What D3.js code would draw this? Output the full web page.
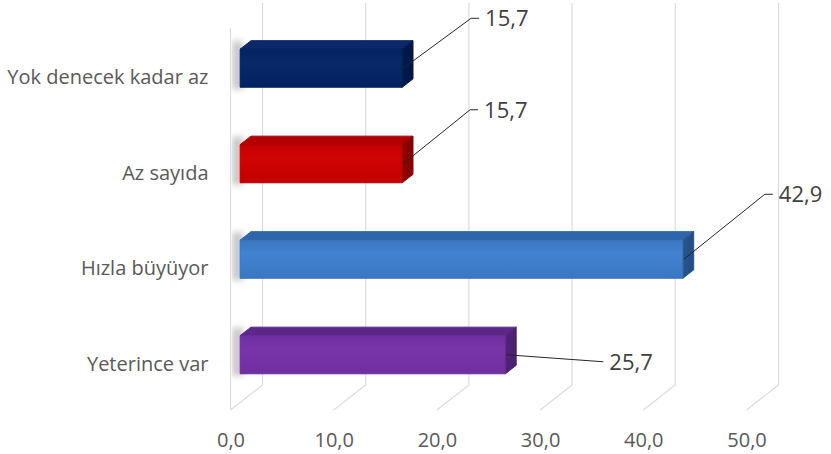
<!DOCTYPE html>
<html><head><meta charset="utf-8">
<script src="https://cdn.jsdelivr.net/npm/d3@7/dist/d3.min.js"></script>
<style>
html,body{margin:0;padding:0;background:#fff;}
svg{display:block;font-family:"Open Sans",sans-serif;}
</style></head>
<body><svg id="c" width="831" height="454"></svg>
<script>
const categories = ["Yok denecek kadar az","Az sayıda","Hızla büyüyor","Yeterince var"];
const values = [15.7, 15.7, 42.9, 25.7];
const tickValues = [0,10,20,30,40,50];
const barColors = [
  {front:"#032261", light:"#082868", top:"#0b286a", end:"#011a4c"},
  {front:"#c20000", light:"#d00404", top:"#b20000", end:"#930000"},
  {front:"#3a77c3", light:"#4282cf", top:"#2f65a9", end:"#26558f"},
  {front:"#7030a0", light:"#7834a9", top:"#5c2788", end:"#53227a"}
];
// manual leader-line elbows (offset from bar end), like the original layout
const labelElbows = [[68,-50],[67,-54],[81,-65],[97,7]];

const svg = d3.select("#c");
const DX = 32, DY = 25;          // depth projection
const D0 = 0.3, D1 = 0.64;       // bar depth span
const x = d3.scaleLinear().domain([0,50]).range([230.5, 746.5]);
const y = d3.scaleBand().domain(categories).range([28,410]).paddingInner(0.6).paddingOuter(0.3);
const fmt = v => d3.format(".1f")(v).replace(".", ",");
const P = (v, yy, d) => [x(v) + d*DX, yy - d*DY];

const defs = svg.append("defs");
const blur = defs.append("filter").attr("id","blur").attr("x","-80%").attr("y","-50%").attr("width","260%").attr("height","200%");
blur.append("feGaussianBlur").attr("stdDeviation",3);
barColors.forEach((c,i)=>{
  const g = defs.append("linearGradient").attr("id","gf"+i).attr("x1",0).attr("y1",0).attr("x2",0).attr("y2",1);
  g.append("stop").attr("offset","0%").attr("stop-color",c.front);
  g.append("stop").attr("offset","35%").attr("stop-color",c.light);
  g.append("stop").attr("offset","100%").attr("stop-color",c.front);
  const e = defs.append("linearGradient").attr("id","ge"+i).attr("x1",0).attr("y1",0).attr("x2",1).attr("y2",0);
  e.append("stop").attr("offset","0%").attr("stop-color",c.end);
  e.append("stop").attr("offset","100%").attr("stop-color",d3.color(c.end).darker(0.3));
});
defs.append("clipPath").attr("id","wallclip").append("rect").attr("x",x(0)+1).attr("y",0).attr("width",831).attr("height",454);

// gridlines: back wall + floor
const grid = svg.append("g").attr("stroke","#dcdcdc").attr("stroke-width",1.2).attr("fill","none");
const yTopFront = y.range()[0], yBotFront = y.range()[1];
tickValues.forEach(t=>{
  const b0 = P(t, yTopFront, 1), b1 = P(t, yBotFront, 1), f1 = P(t, yBotFront, 0);
  grid.append("path").attr("d", d3.line()([b0,b1,f1]));
});
// left wall front edge
grid.append("path").attr("d", d3.line()([P(0,yTopFront,0), P(0,yBotFront,0)]));

// shadows on left wall
const sh = svg.append("g").attr("clip-path","url(#wallclip)");
categories.forEach((c,i)=>{
  const yt = y(c), h = y.bandwidth();
  const a = P(0, yt, D0);
  sh.append("rect").attr("x", a[0]-8).attr("y", a[1]-8).attr("width", 11).attr("height", h+10)
    .attr("fill","#9a9a9a").attr("opacity",0.55).attr("filter","url(#blur)");
});

// bars
const bars = svg.append("g");
categories.forEach((c,i)=>{
  const v = values[i], yt = y(c), h = y.bandwidth(), col = barColors[i];
  const g = bars.append("g").attr("stroke-linejoin","round");
  g.append("path").attr("d", d3.line()([P(0,yt,D0),P(v,yt,D0),P(v,yt,D1),P(0,yt,D1)])+"Z")
    .attr("fill", col.top).attr("stroke", col.top).attr("stroke-width",1);
  g.append("path").attr("d", d3.line()([P(v,yt,D0),P(v,yt,D1),P(v,yt+h,D1),P(v,yt+h,D0)])+"Z")
    .attr("fill", "url(#ge"+i+")").attr("stroke", col.end).attr("stroke-width",1);
  const f0 = P(0,yt,D0), f1 = P(v,yt+h,D0);
  g.append("rect").attr("x",f0[0]).attr("y",f0[1]).attr("width",f1[0]-f0[0]).attr("height",f1[1]-f0[1])
    .attr("fill","url(#gf"+i+")").attr("stroke", d3.color(col.front).darker(0.2)).attr("stroke-width",0.8);
});

// data labels with leader lines
const lab = svg.append("g");
categories.forEach((c,i)=>{
  const v = values[i], yc = y(c) + y.bandwidth()/2;
  const s = P(v, yc, D0); s[0] += 1;
  const e = [s[0]+labelElbows[i][0], s[1]+labelElbows[i][1]];
  const pts = labelElbows[i][1] < 0 ? [s, e, [e[0]+8, e[1]]] : [s, e];
  lab.append("path").attr("d", d3.line()(pts)).attr("fill","none").attr("stroke","#262626").attr("stroke-width",1);
  const end = pts[pts.length-1];
  lab.append("text").attr("x", end[0]+6).attr("y", end[1]).attr("dy","0.36em")
    .attr("fill","#404040").attr("font-size",22).text(fmt(v));
});

// value axis labels (front floor edge)
const ax = svg.append("g").attr("transform",`translate(0,${yBotFront})`)
  .call(d3.axisBottom(x).tickValues(tickValues).tickFormat(fmt).tickSize(0).tickPadding(23));
ax.select(".domain").remove();
ax.selectAll("text").attr("fill","#595959").attr("font-size",20).attr("font-family","'Open Sans',sans-serif");

// category axis labels
const ay = svg.append("g").attr("transform",`translate(${x(0)},2)`)
  .call(d3.axisLeft(y).tickSize(0).tickPadding(22));
ay.select(".domain").remove();
ay.selectAll("text").attr("fill","#595959").attr("font-size",20).attr("font-family","'Open Sans',sans-serif");
</script></body></html>
